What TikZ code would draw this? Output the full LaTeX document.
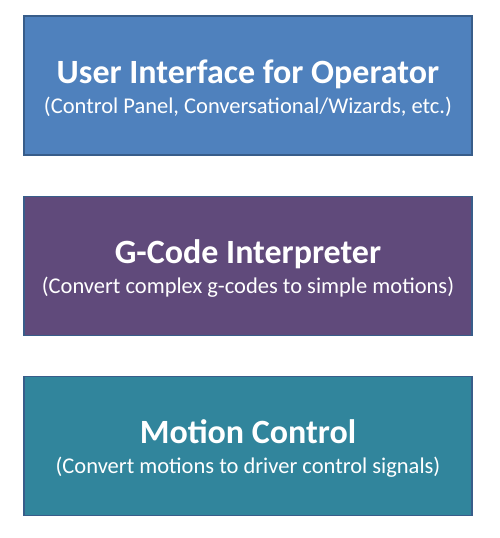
\documentclass[tikz,border=0pt]{standalone}
\usepackage{fontspec}
\setmainfont{Carlito}
\definecolor{uiblue}{HTML}{4F81BD}
\definecolor{gcpurple}{HTML}{604A7B}
\definecolor{mcteal}{HTML}{31859C}
\definecolor{edgeblue}{HTML}{385D8A}
\tikzset{
  layer/.style = {draw=edgeblue,line width=1.6pt,minimum width=448pt,minimum height=139pt,inner sep=0pt},
  heading/.style = {anchor=base,text=white,font=\fontsize{34}{38}\selectfont\bfseries,inner sep=0pt},
  note/.style = {anchor=base,text=white,font=\fontsize{22.5}{26}\selectfont,inner sep=0pt}
}

\begin{document}
\begin{tikzpicture}[x=1pt,y=1pt]
  \useasboundingbox (0,0) rectangle (500,-538);
  % the three layers, top to bottom
  \node[layer,fill=uiblue] (ui) at (248,-85.5) {};
  \node[layer,fill=gcpurple] (gcode) at (248,-266) {};
  \node[layer,fill=mcteal] (motion) at (248,-446) {};
  % texts
  \node[heading] (uiTitle) at ([yshift=2.5pt]ui.center) {User Interface for Operator};
  \node[note] (uiNote) at ([yshift=-27.5pt]ui.center) {(Control Panel, Conversational/Wizards, etc.)};
  \node[heading] (gcodeTitle) at ([yshift=2.5pt]gcode.center) {G-Code Interpreter};
  \node[note] (gcodeNote) at ([yshift=-27.5pt]gcode.center) {(Convert complex g-codes to simple motions)};
  \node[heading] (motionTitle) at ([yshift=2.5pt]motion.center) {Motion Control};
  \node[note] (motionNote) at ([yshift=-27.5pt]motion.center) {(Convert motions to driver control signals)};
\end{tikzpicture}
\end{document}
